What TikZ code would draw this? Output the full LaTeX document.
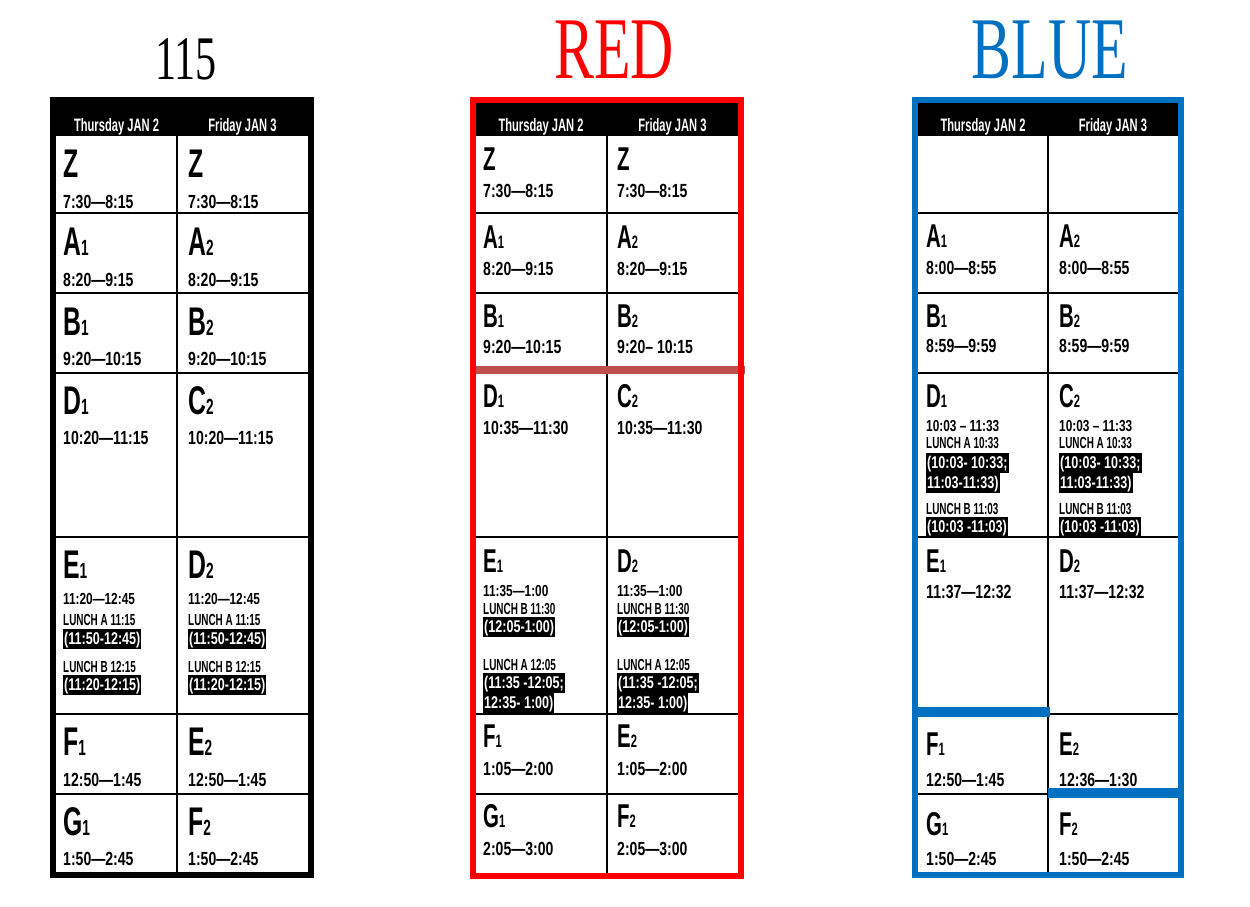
\documentclass[tikz,border=0pt]{standalone}
\usepackage{fontspec}
\setmainfont{Liberation Sans}
\newfontfamily\narr[FakeStretch=0.62]{Liberation Sans}
\newfontfamily\cond[FakeStretch=0.74]{Liberation Sans}
\newfontfamily\ttl[FakeStretch=0.68]{Liberation Serif}
\definecolor{redband}{HTML}{FF0000}
\definecolor{blueband}{HTML}{0070C0}
\definecolor{cutline}{HTML}{C0504D}

\tikzset{
  rule/.style={line width=1.5pt},
  frame/.style={line width=6pt},
  keybig/.style={font=\narr\bfseries\fontsize{40}{40}\selectfont, inner sep=0pt, anchor=base west},
  keysmall/.style={font=\narr\bfseries\fontsize{33}{33}\selectfont, inner sep=0pt, anchor=base west},
  tm/.style={font=\cond\bfseries\fontsize{19}{19}\selectfont, inner sep=0pt, anchor=base west},
  tmsmall/.style={font=\cond\bfseries\fontsize{16}{16}\selectfont, inner sep=0pt, anchor=base west},
  lunch/.style={font=\narr\bfseries\fontsize{16}{16}\selectfont, inner sep=0pt, anchor=base west},
  hilite/.style={fill=black, text=white, font=\cond\bfseries\fontsize{17}{17}\selectfont, inner xsep=1pt, inner ysep=1pt, text height=14pt, text depth=4pt, anchor=base west},
  dayhead/.style={text=white, font=\narr\bfseries\fontsize{18}{18}\selectfont, inner sep=0pt, anchor=base},
  title/.style={font=\ttl\fontsize{88}{88}\selectfont, inner sep=0pt, anchor=base},
}
\newcommand{\digbig}{\fontsize{22}{22}\selectfont}
\newcommand{\digsmall}{\fontsize{18}{18}\selectfont}
\newcommand{\key}[6]{\node[key#2] (#1k) at (#3,#4) {#5{\csname dig#2\endcsname #6}};}
\newcommand{\period}[8]{\key{#1}{#2}{#3}{#4}{#5}{#6}
  \node[tm] (#1t) at (#3,#7) {#8};}

\begin{document}
\begin{tikzpicture}[x=1pt, y=-1pt]
  \useasboundingbox (0,0) rectangle (1250,906);
  \fill[white] (0,0) rectangle (1250,906);

  % 115
  \node[title, font=\ttl\fontsize{62}{62}\selectfont] (t115) at (186,79) {115};
  \fill[black] (50,97) rectangle (314,136);
  \foreach \y in {213,293,373,537,714,794} \draw[rule] (56,\y) -- (308,\y);
  \draw[rule] (177,136) -- (177,872);
  \draw[frame] (53,100) rectangle (311,875);
  \node[dayhead] (a-h1) at (116.5,131.5) {Thursday JAN 2};
  \node[dayhead] (a-h2) at (242.5,131.5) {Friday JAN 3};
  \period{a-z1}{big}{63}{177}{Z}{}{208}{7:30—8:15}
  \period{a-z2}{big}{188}{177}{Z}{}{208}{7:30—8:15}
  \period{a-a1}{big}{63}{255}{A}{1}{286}{8:20—9:15}
  \period{a-a2}{big}{188}{255}{A}{2}{286}{8:20—9:15}
  \period{a-b1}{big}{63}{335}{B}{1}{365}{9:20—10:15}
  \period{a-b2}{big}{188}{335}{B}{2}{365}{9:20—10:15}
  \period{a-d1}{big}{63}{414}{D}{1}{444}{10:20—11:15}
  \period{a-c2}{big}{188}{414}{C}{2}{444}{10:20—11:15}
  \key{a-e1}{big}{63}{578}{E}{1}
  \node[tmsmall] (a-e1t) at (63,604) {11:20—12:45};
  \node[lunch] (a-e1la) at (63,625) {LUNCH A 11:15};
  \node[hilite] (a-e1ha) at (63,644) {(11:50-12:45)};
  \node[lunch] (a-e1lb) at (63,672) {LUNCH B 12:15};
  \node[hilite] (a-e1hb) at (63,690) {(11:20-12:15)};
  \key{a-d2}{big}{188}{578}{D}{2}
  \node[tmsmall] (a-d2t) at (188,604) {11:20—12:45};
  \node[lunch] (a-d2la) at (188,625) {LUNCH A 11:15};
  \node[hilite] (a-d2ha) at (188,644) {(11:50-12:45)};
  \node[lunch] (a-d2lb) at (188,672) {LUNCH B 12:15};
  \node[hilite] (a-d2hb) at (188,690) {(11:20-12:15)};
  \period{a-f1}{big}{63}{755}{F}{1}{786}{12:50—1:45}
  \period{a-e2}{big}{188}{755}{E}{2}{786}{12:50—1:45}
  \period{a-g1}{big}{63}{835}{G}{1}{865}{1:50—2:45}
  \period{a-f2}{big}{188}{835}{F}{2}{865}{1:50—2:45}

  % RED
  \node[title, text=redband] (tred) at (614,78) {RED};
  \fill[black] (476,102) rectangle (738,136);
  \foreach \y in {213,293,537,714,794} \draw[rule] (476,\y) -- (738,\y);
  \draw[rule] (607,136) -- (607,873);
  \draw[line width=8pt, cutline] (472,370) -- (745,370);
  \draw[frame, redband] (473,99.5) rectangle (741,875.5);
  \node[dayhead] (r-h1) at (541,131.5) {Thursday JAN 2};
  \node[dayhead] (r-h2) at (672.5,131.5) {Friday JAN 3};
  \period{r-z1}{small}{483}{170}{Z}{}{197}{7:30—8:15}
  \period{r-z2}{small}{617}{170}{Z}{}{197}{7:30—8:15}
  \period{r-a1}{small}{483}{248}{A}{1}{275}{8:20—9:15}
  \period{r-a2}{small}{617}{248}{A}{2}{275}{8:20—9:15}
  \period{r-b1}{small}{483}{327}{B}{1}{353}{9:20—10:15}
  \period{r-b2}{small}{617}{327}{B}{2}{353}{9:20– 10:15}
  \period{r-d1}{small}{483}{407}{D}{1}{434}{10:35—11:30}
  \period{r-c2}{small}{617}{407}{C}{2}{434}{10:35—11:30}
  \key{r-e1}{small}{483}{572}{E}{1}
  \node[tmsmall] (r-e1t) at (483,596) {11:35—1:00};
  \node[lunch] (r-e1lb) at (483,614) {LUNCH B 11:30};
  \node[hilite] (r-e1hb) at (483,632) {(12:05-1:00)};
  \node[lunch] (r-e1la) at (483,670) {LUNCH A 12:05};
  \node[hilite] (r-e1ha) at (483,688) {(11:35 -12:05;};
  \node[hilite] (r-e1hc) at (483,708) {12:35- 1:00)};
  \key{r-d2}{small}{617}{572}{D}{2}
  \node[tmsmall] (r-d2t) at (617,596) {11:35—1:00};
  \node[lunch] (r-d2lb) at (617,614) {LUNCH B 11:30};
  \node[hilite] (r-d2hb) at (617,632) {(12:05-1:00)};
  \node[lunch] (r-d2la) at (617,670) {LUNCH A 12:05};
  \node[hilite] (r-d2ha) at (617,688) {(11:35 -12:05;};
  \node[hilite] (r-d2hc) at (617,708) {12:35- 1:00)};
  \period{r-f1}{small}{483}{747}{F}{1}{775}{1:05—2:00}
  \period{r-e2}{small}{617}{747}{E}{2}{775}{1:05—2:00}
  \period{r-g1}{small}{483}{827}{G}{1}{855}{2:05—3:00}
  \period{r-f2}{small}{617}{827}{F}{2}{855}{2:05—3:00}

  % BLUE
  \node[title, text=blueband] (tblue) at (1050,78) {BLUE};
  \fill[black] (918,102) rectangle (1178,136);
  \foreach \y in {213,293,373,537} \draw[rule] (918,\y) -- (1178,\y);
  \draw[rule] (918,794) -- (1048,794);
  \draw[rule] (1048,714) -- (1178,714);
  \draw[rule] (1048,136) -- (1048,873);
  \draw[line width=10pt, blueband] (912,712) -- (1050,712);
  \draw[line width=10pt, blueband] (1048,793) -- (1184,793);
  \draw[frame, blueband] (915,100) rectangle (1181,875);
  \node[dayhead] (b-h1) at (983,131.5) {Thursday JAN 2};
  \node[dayhead] (b-h2) at (1113,131.5) {Friday JAN 3};
  \period{b-a1}{small}{926}{247}{A}{1}{274}{8:00—8:55}
  \period{b-a2}{small}{1059}{247}{A}{2}{274}{8:00—8:55}
  \period{b-b1}{small}{926}{327}{B}{1}{352}{8:59—9:59}
  \period{b-b2}{small}{1059}{327}{B}{2}{352}{8:59—9:59}
  \key{b-d1}{small}{926}{407}{D}{1}
  \node[tmsmall] (b-d1t) at (926,431) {10:03 – 11:33};
  \node[lunch] (b-d1la) at (926,448) {LUNCH A 10:33};
  \node[hilite] (b-d1ha) at (926,468) {(10:03- 10:33;};
  \node[hilite] (b-d1hc) at (926,488) {11:03-11:33)};
  \node[lunch] (b-d1lb) at (926,514) {LUNCH B 11:03};
  \node[hilite] (b-d1hb) at (926,532) {(10:03 -11:03)};
  \key{b-c2}{small}{1059}{407}{C}{2}
  \node[tmsmall] (b-c2t) at (1059,431) {10:03 – 11:33};
  \node[lunch] (b-c2la) at (1059,448) {LUNCH A 10:33};
  \node[hilite] (b-c2ha) at (1059,468) {(10:03- 10:33;};
  \node[hilite] (b-c2hc) at (1059,488) {11:03-11:33)};
  \node[lunch] (b-c2lb) at (1059,514) {LUNCH B 11:03};
  \node[hilite] (b-c2hb) at (1059,532) {(10:03 -11:03)};
  \period{b-e1}{small}{926}{572}{E}{1}{598}{11:37—12:32}
  \period{b-d2}{small}{1059}{572}{D}{2}{598}{11:37—12:32}
  \period{b-f1}{small}{926}{755}{F}{1}{786}{12:50—1:45}
  \period{b-e2}{small}{1059}{755}{E}{2}{786}{12:36—1:30}
  \period{b-g1}{small}{926}{835}{G}{1}{865}{1:50—2:45}
  \period{b-f2}{small}{1059}{835}{F}{2}{865}{1:50—2:45}
\end{tikzpicture}
\end{document}
